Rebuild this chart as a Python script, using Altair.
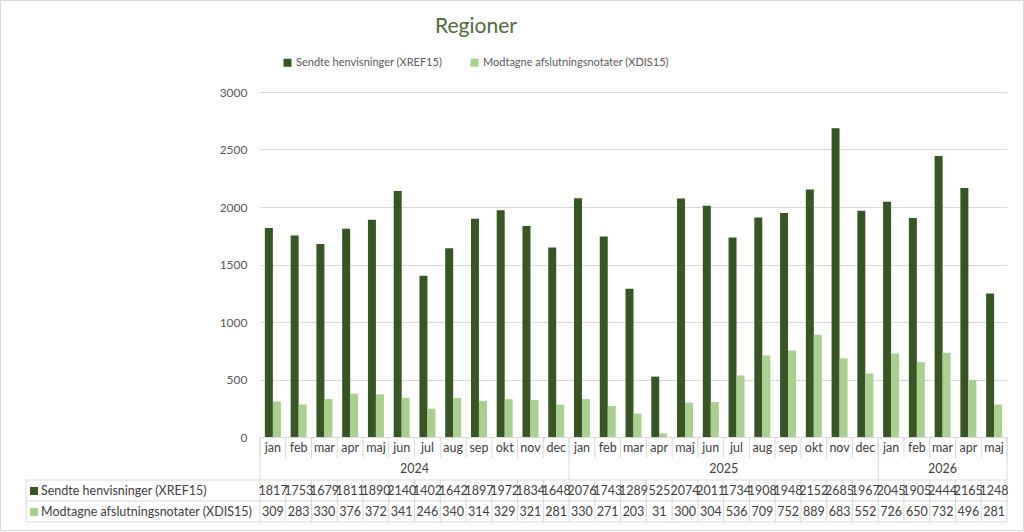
import altair as alt
import pandas as pd

months = ["jan", "feb", "mar", "apr", "maj", "jun", "jul", "aug", "sep", "okt", "nov", "dec",
          "jan", "feb", "mar", "apr", "maj", "jun", "jul", "aug", "sep", "okt", "nov", "dec",
          "jan", "feb", "mar", "apr", "maj"]
years = ["2024"] * 12 + ["2025"] * 12 + ["2026"] * 5
sendte = [1817, 1753, 1679, 1811, 1890, 2140, 1402, 1642, 1897, 1972, 1834, 1648,
          2076, 1743, 1289, 525, 2074, 2011, 1734, 1908, 1948, 2152, 2685, 1967,
          2045, 1905, 2444, 2165, 1248]
modtagne = [309, 283, 330, 376, 372, 341, 246, 340, 314, 329, 321, 281,
            330, 271, 203, 31, 300, 304, 536, 709, 752, 889, 683, 552,
            726, 650, 732, 496, 281]
s1 = "Sendte henvisninger (XREF15)"
s2 = "Modtagne afslutningsnotater (XDIS15)"
c1 = "#375623"
c2 = "#a9d08e"

n = len(months)
W, H = 747, 345
FONT = "Lato"
TXT = "#404040"
GRID = "#d9d9d9"

rows = []
for i in range(n):
    rows.append({"idx": i, "series": s1, "value": sendte[i], "k": 0})
    rows.append({"idx": i, "series": s2, "value": modtagne[i], "k": 1})
bars_df = pd.DataFrame(rows)
tab_df = pd.DataFrame({"idx": list(range(n)), "month": months,
                       "s": sendte, "m": modtagne})
year_names = ["2024", "2025", "2026"]
year_df = pd.DataFrame({"year": year_names,
                        "start": [years.index(y) for y in year_names],
                        "count": [years.count(y) for y in year_names]})
bounds_df = pd.DataFrame({"b": list(range(n + 1))})
year_bounds_df = pd.DataFrame({"b": [0] + [int(year_df["start"][i] + year_df["count"][i]) for i in range(3)]})

xs = alt.Scale(domain=[0, n], nice=False, zero=False)

bars = alt.Chart(bars_df).transform_calculate(
    x0="datum.idx + 0.19 + datum.k * 0.31",
    x1="datum.idx + 0.50 + datum.k * 0.31",
).mark_bar().encode(
    x=alt.X("x0:Q", scale=xs, axis=None),
    x2="x1:Q",
    y=alt.Y("value:Q", scale=alt.Scale(domain=[0, 3000], nice=False),
            axis=alt.Axis(values=[0, 500, 1000, 1500, 2000, 2500, 3000], title=None,
                          format="d",
                          domain=False, ticks=False, labelPadding=13, gridColor=GRID,
                          labelFont=FONT, labelFontSize=12, labelColor="#595959")),
    y2=alt.datum(0),
    color=alt.Color("series:N", scale=alt.Scale(domain=[s1, s2], range=[c1, c2]),
                    legend=alt.Legend(title=None, orient="none", legendX=22, legendY=-35,
                                      direction="horizontal", symbolType="square",
                                      symbolSize=64, symbolStrokeWidth=0,
                                      labelFont=FONT, labelFontSize=11, labelColor="#595959",
                                      labelOffset=3, columnPadding=26, labelLimit=400)),
)

month_text = alt.Chart(tab_df).transform_calculate(c="datum.idx + 0.5").mark_text(
    font=FONT, fontSize=12.5, color=TXT, baseline="middle").encode(
    x=alt.X("c:Q", scale=xs, axis=None), y=alt.value(356), text="month:N")
s_text = alt.Chart(tab_df).transform_calculate(c="datum.idx + 0.5").mark_text(
    font=FONT, fontSize=12.5, color=TXT, baseline="middle").encode(
    x=alt.X("c:Q", scale=xs, axis=None), y=alt.value(399), text="s:Q")
m_text = alt.Chart(tab_df).transform_calculate(c="datum.idx + 0.5").mark_text(
    font=FONT, fontSize=12.5, color=TXT, baseline="middle").encode(
    x=alt.X("c:Q", scale=xs, axis=None), y=alt.value(420), text="m:Q")
year_text = alt.Chart(year_df).transform_calculate(c="datum.start + datum.count / 2").mark_text(
    font=FONT, fontSize=12.5, color=TXT, baseline="middle").encode(
    x=alt.X("c:Q", scale=xs, axis=None), y=alt.value(377), text="year:N")

month_sep = alt.Chart(bounds_df).mark_rule(color=GRID, strokeWidth=1).encode(
    x=alt.X("b:Q", scale=xs, axis=None), y=alt.value(345), y2=alt.value(366))
data_sep = alt.Chart(bounds_df).mark_rule(color=GRID, strokeWidth=1).encode(
    x=alt.X("b:Q", scale=xs, axis=None), y=alt.value(388), y2=alt.value(430))
year_sep = alt.Chart(year_bounds_df).mark_rule(color=GRID, strokeWidth=1).encode(
    x=alt.X("b:Q", scale=xs, axis=None), y=alt.value(345), y2=alt.value(388))
hlines_df = pd.DataFrame({"yy": [388, 409, 430]})
hlines = alt.Chart(hlines_df).mark_rule(color=GRID, strokeWidth=1).encode(
    x=alt.value(-234), x2=alt.value(W), y=alt.Y("yy:Q", scale=None, axis=None))
left_edge = alt.Chart(pd.DataFrame({"a": [0]})).mark_rule(color=GRID, strokeWidth=1).encode(
    x=alt.value(-234), y=alt.value(388), y2=alt.value(430))

leg_df = pd.DataFrame({"series": [s1, s2], "yy": [399, 420]})
leg_sq = alt.Chart(leg_df).mark_square(size=64, opacity=1).encode(
    x=alt.value(-226), y=alt.Y("yy:Q", scale=None, axis=None),
    fill=alt.Fill("series:N", scale=alt.Scale(domain=[s1, s2], range=[c1, c2]), legend=None))
leg_txt = alt.Chart(leg_df).mark_text(font=FONT, fontSize=12.5, color=TXT, align="left",
                                      baseline="middle").encode(
    x=alt.value(-219), y=alt.Y("yy:Q", scale=None, axis=None), text="series:N")

title = alt.Chart(pd.DataFrame({"t": ["Regioner"]})).mark_text(
    font=FONT, fontSize=21, color="#4f6a3a", baseline="middle").encode(
    x=alt.value(216), y=alt.value(-65), text="t:N")

# outer chart border drawn as four rules
border_h = alt.Chart(pd.DataFrame({"yy": [-91.5, 438.5]})).mark_rule(
    color=GRID, strokeWidth=1).encode(
    x=alt.value(-259.5), x2=alt.value(763.5), y=alt.Y("yy:Q", scale=None, axis=None))
border_v = alt.Chart(pd.DataFrame({"xx": [-259.5, 763.5]})).mark_rule(
    color=GRID, strokeWidth=1).encode(
    x=alt.X("xx:Q", scale=None, axis=None), y=alt.value(-91.5), y2=alt.value(438.5))

chart = alt.layer(
    border_h, border_v, bars, month_sep, data_sep, year_sep, hlines, left_edge,
    month_text, year_text, s_text, m_text, leg_sq, leg_txt, title
).properties(
    width=W, height=H,
    autosize=alt.AutoSizeParams(type="none"),
    padding={"left": 260, "top": 92, "right": 17, "bottom": 95},
    view=alt.ViewBackground(stroke="transparent", strokeWidth=0),
).resolve_scale(fill="independent").configure_view(
    stroke="transparent", strokeWidth=0
).configure(background="white")

chart.save("out.html", embed_options={"renderer": "svg", "actions": False})
